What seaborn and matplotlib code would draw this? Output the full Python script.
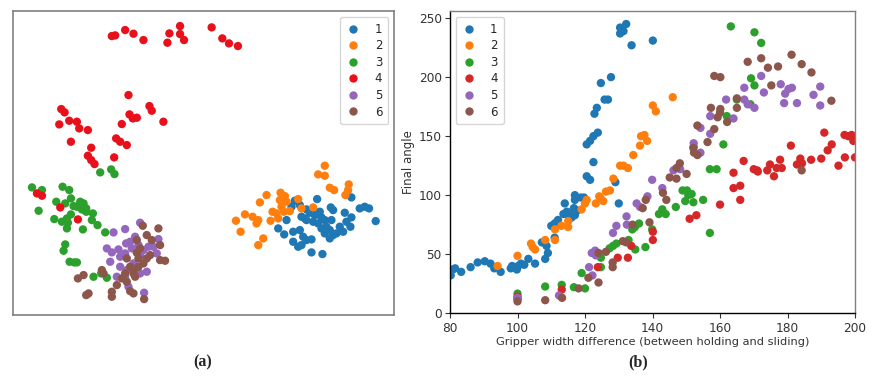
import matplotlib
matplotlib.use('Agg')
import matplotlib.pyplot as plt
import numpy as np
import pandas as pd
import seaborn as sns

#
#   (a) embedding, coordinates (arbitrary units, y downwards)
#
emb_x = {
  '1': [885, 952, 1055, 993, 1000, 920, 930, 915, 945, 960, 965, 975, 995, 1035, 1055, 1080, 1095, 1108,
        1128, 1052, 1030, 1010, 990, 980, 965, 955, 940, 920, 905, 860, 835, 853, 880, 900, 910, 880, 905,
        920, 935, 895, 935, 968, 990, 1000, 975, 1020, 1040, 875, 900],
  '2': [975, 955, 975, 990, 1003, 1047, 1045, 1037, 800, 780, 842, 855, 860, 845, 852, 830, 818, 870, 895,
        905, 940, 735, 708, 758, 775, 770, 812, 722, 790, 775, 835, 840],
  '3': [300, 333, 343, 95, 125, 187, 207, 212, 168, 195, 115, 240, 250, 230, 245, 258, 278, 212, 200, 185,
        162, 203, 200, 275, 292, 248, 315, 195, 190, 208, 230, 222, 280, 320, 303, 258, 220],
  '4': [335, 345, 375, 400, 430, 502, 508, 540, 540, 552, 635, 667, 687, 714, 183, 193, 177, 207, 230, 237,
        263, 212, 273, 263, 273, 283, 342, 348, 360, 380, 365, 385, 388, 398, 410, 448, 455, 490, 110, 125,
        180, 233],
  '5': [340, 375, 420, 475, 320, 335, 355, 378, 390, 405, 415, 360, 375, 395, 430, 445, 460, 470, 330, 360,
        380, 440, 420, 350, 375, 385, 432, 420, 400],
  '6': [428, 475, 440, 455, 480, 410, 420, 410, 380, 415, 440, 430, 480, 495, 390, 400, 375, 400, 365, 380,
        350, 390, 400, 335, 335, 305, 310, 250, 233, 265, 258, 432, 415, 405, 450],
}
emb_y = {
  '1': [602, 597, 592, 622, 630, 628, 638, 655, 645, 635, 652, 660, 660, 638, 652, 625, 620, 625, 663, 680,
        695, 700, 690, 680, 685, 670, 665, 660, 650, 660, 685, 703, 695, 690, 710, 725, 735, 720, 718, 740,
        757, 762, 715, 705, 700, 680, 665, 620, 615],
  '2': [497, 523, 527, 563, 570, 553, 570, 585, 585, 607, 578, 588, 605, 620, 635, 640, 635, 633, 597, 625,
        622, 643, 662, 650, 660, 670, 662, 695, 715, 735, 655, 600],
  '3': [517, 508, 522, 562, 570, 560, 570, 595, 605, 610, 632, 605, 610, 620, 628, 635, 640, 643, 655, 665,
        657, 668, 685, 660, 675, 688, 697, 733, 752, 785, 787, 787, 830, 833, 820, 625, 618],
  '4': [108, 106, 90, 101, 120, 128, 100, 78, 102, 120, 82, 115, 130, 138, 327, 337, 373, 362, 365, 385, 390,
        425, 443, 467, 480, 492, 472, 415, 425, 435, 372, 285, 343, 355, 353, 318, 332, 365, 580, 587, 622,
        658],
  '5': [697, 687, 668, 717, 745, 757, 748, 730, 725, 710, 735, 770, 760, 745, 750, 740, 740, 760, 785, 800,
        810, 815, 820, 830, 830, 860, 878, 765, 790],
  '6': [677, 685, 705, 720, 735, 720, 745, 758, 775, 775, 775, 790, 780, 782, 800, 810, 820, 820, 835, 845,
        855, 873, 880, 875, 890, 810, 820, 825, 835, 880, 885, 897, 800, 830, 765],
}

#
#   (b) final angle vs gripper width difference
#
width_diff = {
  '1': [80.2, 80.8, 81.5, 83.3, 86.1, 88.2, 90.3, 92, 93.1, 95, 98, 98.4, 99.8, 100.2, 101, 102, 103.2, 105.2,
        107.2, 108.2, 108.6, 109, 110, 111, 111.6, 112, 111, 114, 113.6, 114.6, 115, 115.5, 116, 117, 117,
        116.7, 117.7, 117, 118.8, 120.5, 121.5, 119.7, 120.5, 121.5, 122.5, 122.8, 123.5, 123.8, 124.7, 125.8,
        126.8, 127.7, 122.5, 129, 130, 130.4, 130.4, 131.4, 132.2, 133.8, 140.1],
  '2': [94.1, 100, 104, 104.5, 105.2, 108.2, 111.1, 111.1, 113, 115, 115, 119, 120, 120.5, 123.2, 124.2, 124.7,
        125.4, 126.2, 127.4, 128.4, 130.4, 131.4, 132.7, 134.3, 136.3, 136.6, 137.6, 138.4, 140.1, 141, 146],
  '3': [100, 108.2, 113.1, 116.7, 119, 120, 124.7, 124.7, 127.3, 128.3, 129.3, 132.9, 134, 134.8, 136, 134.9,
        137.9, 139.9, 141.9, 142.9, 143.9, 146.9, 148.9, 149.7, 150.2, 150.6, 151.6, 152.1, 155, 157, 159, 157,
        161, 162, 163.2, 165, 169, 169.2, 170.2, 170.2, 172.2],
  '4': [100, 100, 113.1, 123.8, 129.7, 132.7, 133.7, 140.1, 140.1, 151, 153, 160, 164, 164, 166, 166, 167, 170,
        171, 171.2, 174, 174.8, 176, 176.8, 177.8, 178.3, 181, 182.8, 183.8, 184.3, 187, 190, 190.9, 191.9,
        193.1, 195.1, 196.9, 197, 198, 199, 199.5, 200],
  '5': [100, 112.3, 121.2, 122.2, 122, 123, 123.2, 128.3, 129.3, 132.3, 132.4, 135.3, 136.3, 138.5, 139.9,
        142.9, 146.2, 148.2, 152.2, 152.2, 154.2, 154.2, 157.1, 157.1, 161.8, 164, 167.2, 167.2, 168.2, 170.2,
        172.2, 173, 178, 179, 179.3, 180.3, 181.3, 182.8, 187.7, 189.7, 189.7],
  '6': [100, 108.2, 113.2, 118.1, 121, 124, 124, 126.2, 128.2, 128.2, 131.2, 132.2, 134.1, 137.1, 138, 139.1,
        143.1, 144.1, 145.1, 147.1, 147.1, 148.1, 150.1, 152.1, 152.3, 153.3, 153.3, 156.3, 157.3, 158.3, 158.3,
        159.3, 160, 160.1, 160.1, 162.1, 165, 165, 168.2, 172.2, 174.2, 175.2, 177.2, 181.2, 184.2, 187.1,
        184.2, 193],
}
final_angle = {
  '1': [32, 37, 38, 35, 39, 43, 44, 42, 38, 35, 38, 40, 37, 40, 42, 41, 46, 42, 60, 46, 57, 51, 74, 76, 77, 79,
        64, 93, 84, 86, 83, 85, 81, 100, 96, 89, 87, 83, 98, 116, 113, 98, 143, 146, 150, 169, 174, 153, 195,
        181, 181, 200, 128, 111, 93, 242, 237, 239, 245, 227, 231],
  '2': [40, 48.6, 59, 56, 54, 62, 71, 62, 74, 73, 78, 88, 93, 96, 93, 99, 97, 95, 103, 104, 114, 125, 125, 123,
        134, 142, 150, 151, 146, 176, 171, 183],
  '3': [16.6, 22.6, 24, 22, 34, 21, 47, 39, 55, 57, 59, 62, 71, 73, 76, 54, 56, 71, 84, 88, 84, 90, 104, 95,
        104, 100, 101, 94, 96, 122, 122, 68, 143, 167, 243, 181, 177, 199, 238, 193, 229],
  '4': [14, 12, 20, 39, 47, 47, 57, 69, 62, 80, 83, 92, 119, 106, 108, 96, 129, 122, 121, 120, 121, 126, 116,
        123, 130, 123, 142, 126, 131, 127, 130, 131, 153, 138, 143, 125, 151, 132, 150, 151, 146, 132],
  '5': [13, 15, 39, 32, 51, 53, 49, 68, 74, 82, 75, 93, 90, 99, 113, 106, 121, 122, 144, 141, 157, 136, 167,
        152, 181, 165, 191, 181, 177, 174, 201, 187, 194, 178, 186, 190, 191, 178, 185, 192, 176],
  '6': [10, 11, 13, 21, 30, 26, 51, 52, 43, 39, 61, 60, 75, 89, 96, 77, 102, 96, 115, 114, 123, 127, 118, 140,
        136, 134, 159, 145, 174, 201, 156, 166, 170, 200, 173, 162, 182, 174, 213, 216, 208, 193, 209, 219,
        211, 204, 121, 180],
}

classes = ['1', '2', '3', '4', '5', '6']
pal = sns.color_palette('tab10', 6)
pal_a = list(pal)
pal_a[3] = '#e8101a'  # red in (a) is brighter

df_a = pd.concat([pd.DataFrame({'x': emb_x[c], 'y': emb_y[c], 'cls': c}) for c in classes])
df_b = pd.concat([pd.DataFrame({'x': width_diff[c], 'y': final_angle[c], 'cls': c}) for c in classes])

sns.set_style('white')
fig = plt.figure(figsize=(8.85, 3.81), dpi=100)
ax1 = fig.add_axes([0.0147, 0.173, 0.4305, 0.798])
ax2 = fig.add_axes([0.5085, 0.178, 0.4576, 0.793])

leg_kw = dict(fontsize=8.5, labelspacing=0.3, handlelength=1.2, handletextpad=1.2,
              borderpad=0.5, borderaxespad=0.5, frameon=True, markerscale=1.0)

sns.scatterplot(data=df_a, x='x', y='y', hue='cls', hue_order=classes, palette=pal_a,
                s=36, linewidth=0, ax=ax1)
ax1.set_xlim(38, 1183)
ax1.set_ylim(945, 33)
ax1.set_xticks([])
ax1.set_yticks([])
ax1.set_xlabel('')
ax1.set_ylabel('')
for sp in ax1.spines.values():
  sp.set_color('#808080')
  sp.set_linewidth(1.2)
ax1.legend(loc='upper right', **leg_kw)

sns.scatterplot(data=df_b, x='x', y='y', hue='cls', hue_order=classes, palette=pal,
                s=36, linewidth=0, ax=ax2)
ax2.set_xlim(80, 200)
ax2.set_ylim(0, 256)
ax2.set_xticks([80, 100, 120, 140, 160, 180, 200])
ax2.set_yticks([0, 50, 100, 150, 200, 250])
ax2.tick_params(axis='both', labelsize=8.7, length=3.5, pad=2.5, direction='out', left=True, bottom=True,
                colors='#333333')
ax2.set_xlabel('Gripper width difference (between holding and sliding)', fontsize=8.2, color='#333333',
               labelpad=2)
ax2.set_ylabel('Final angle', fontsize=8.5, color='#333333', labelpad=3)
ax2.spines['left'].set_color('black')
ax2.spines['bottom'].set_color('black')
ax2.spines['top'].set_color('#808080')
ax2.spines['right'].set_color('#808080')
for sp in ax2.spines.values():
  sp.set_linewidth(1.0)
ax2.legend(loc='upper left', **leg_kw)

fig.text(0.229, 0.05, '(a)', ha='center', va='center', fontsize=11.5, fontweight='bold',
         family='Liberation Serif')
fig.text(0.721, 0.05, '(b)', ha='center', va='center', fontsize=11.5, fontweight='bold',
         family='Liberation Serif')

fig.savefig('out.png', dpi=100)
